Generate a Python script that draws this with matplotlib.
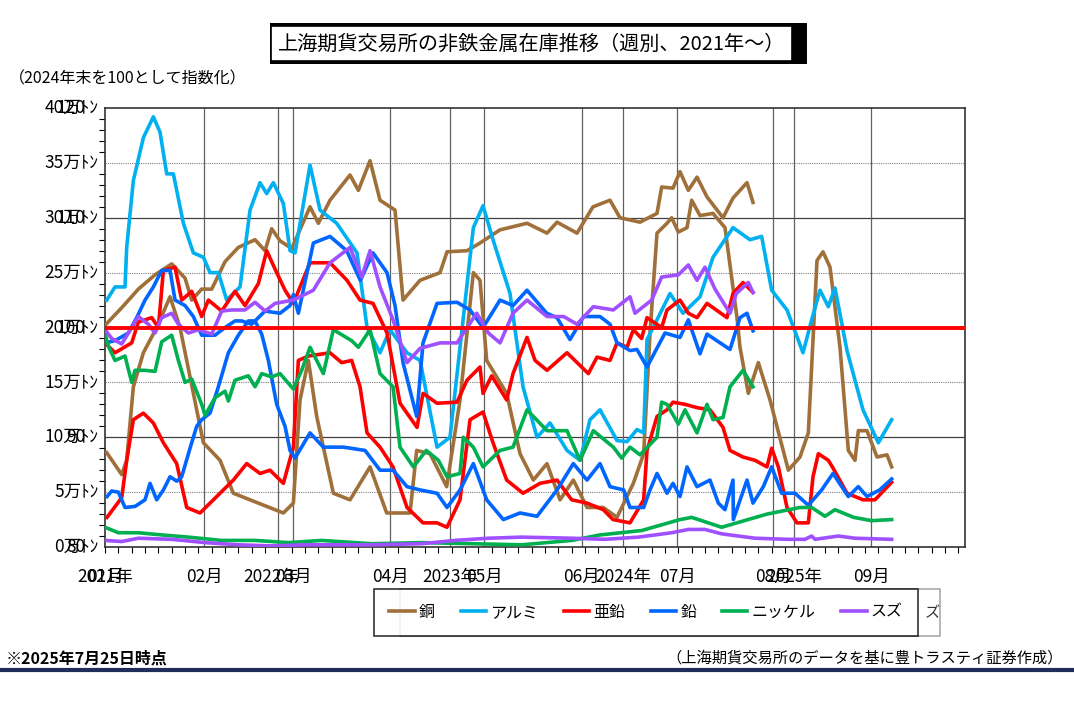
import matplotlib
matplotlib.use("Agg")
import matplotlib.pyplot as plt
from matplotlib.patches import Rectangle

plt.rcParams['font.family'] = ['Noto Sans CJK JP', 'DejaVu Sans']

# (week since 2021-01, value); index lines end in 2024, tonnage lines run to 2025
copper_idx = [(0, 20.2), (5, 21.8), (10, 23.5), (15, 24.8), (20, 25.8), (24, 24.5), (26, 22.5), (29, 23.5),
              (32, 23.5), (36, 26), (40, 27.3), (45, 28), (48, 27), (50, 29), (52.5, 27.9), (56, 27.2),
              (61.5, 31), (64, 29.5), (67.5, 31.6), (73.5, 33.9), (76, 32.5), (79.5, 35.2), (82.5, 31.6),
              (87, 30.7), (89.4, 22.5), (94.5, 24.3), (100.5, 25), (102.6, 26.9), (108.6, 27), (112.5, 27.7),
              (118.5, 28.9), (126.6, 29.5), (132.6, 28.6), (135.6, 29.6), (141.6, 28.6), (146.4, 31),
              (151.5, 31.6), (154.5, 30), (160.5, 29.6), (165.6, 30.4), (167, 32.8), (170.4, 32.7),
              (172.5, 34.2), (175, 32.5), (177.6, 33.7), (180.6, 31.9), (185.4, 30), (188.4, 31.8),
              (192.6, 33.2), (194.4, 31.4)]
copper_t = [(0.5, 8.6), (5, 6.6), (6.5, 7.9), (8.5, 14.6), (11.5, 17.7), (15.5, 20), (19.5, 22.8), (22.5, 20),
            (25.5, 15.5), (29.5, 9.5), (34.5, 7.9), (38.5, 4.9), (43.5, 4.3), (48.5, 3.7), (53.5, 3.1),
            (56.5, 4), (58.5, 13.4), (61, 17), (63.5, 11.9), (68.5, 4.9), (73.5, 4.3), (79.5, 7.3),
            (84.5, 3.1), (91.5, 3.1), (93.5, 8.8), (97.5, 8.5), (102.5, 5.5), (106.5, 13.4), (110.5, 25),
            (112.5, 24.3), (114.5, 17), (120.5, 14), (124.5, 8.5), (128.5, 6.1), (132.6, 7.6), (136.5, 4.3),
            (140.5, 6.1), (144.6, 3.6), (149.5, 3.6), (153.6, 2.7), (158.5, 5.8), (161.6, 8.5),
            (163.5, 19.5), (165.6, 28.6), (168.6, 29.5), (170, 30), (172, 28.7), (174.6, 29.1), (176, 31.6),
            (178.5, 30.2), (182.4, 30.4), (186, 29.1), (189.6, 20.9), (190.5, 18.2), (193, 14),
            (196, 16.8), (199.5, 13.4), (205, 7), (208.5, 8.2), (211, 10.4), (213.6, 26.1), (215.4, 26.9),
            (217.5, 25.5), (220.5, 18.2), (223, 8.8), (225, 7.9), (226, 10.6), (228.6, 10.6), (231.6, 8.2),
            (234.6, 8.4), (236, 7.3)]
alumi = [(0.5, 22.5), (3, 23.7), (6, 23.7), (6.5, 27.3), (8.5, 33.4), (11.5, 37.3), (14.5, 39.2), (16.5, 37.8),
         (18.5, 34), (20.5, 34), (23.5, 29.5), (26.5, 26.8), (29.5, 26.4), (31.5, 25), (34, 25), (36.5, 22.5),
         (40.5, 23.7), (43.5, 30.7), (46.5, 33.2), (48.5, 32.2), (50.5, 33.2), (53.5, 31.3), (55.5, 27),
         (57, 26.8), (61.5, 34.8), (64.5, 30.7), (69.5, 29.5), (75.6, 26.8), (78.6, 20), (82.5, 17.7),
         (85.5, 19.8), (90.6, 17.7), (94.5, 17), (99.6, 9.1), (103.5, 10), (110.5, 29.1), (113.4, 31.1),
         (116.4, 28), (121.5, 23.1), (125.4, 14.6), (129.6, 10), (133.5, 11.3), (138.6, 8.8), (142.5, 7.9),
         (145.5, 11.6), (148.5, 12.5), (153.6, 9.7), (156.6, 9.6), (159.6, 10.7), (161.6, 10.4),
         (162.6, 18.9), (165.6, 20.7), (169.5, 23.1), (173.4, 21.3), (178.5, 22.8), (182.4, 26.4),
         (188.4, 29.1), (193.5, 28), (197, 28.3), (200, 23.4), (204.6, 21.6), (209.4, 17.7), (212, 20.7),
         (214.5, 23.4), (217, 21.9), (219, 23.6), (222.6, 17.9), (227.4, 12.5), (232, 9.5), (236, 11.6)]
zinc_idx = [(0, 18.6), (3, 17.7), (8, 18.6), (10, 20.5), (14, 20.9), (16, 20), (17.5, 25.2), (21, 25.5),
            (23, 22.5), (26, 23.3), (29, 21), (31, 22.5), (35, 21.5), (39, 23.3), (42, 22), (46, 24),
            (48.5, 27), (51.5, 25), (54, 23.4), (56.5, 22.2), (61.5, 25.9), (67.5, 25.9), (72.6, 24.3),
            (76.5, 22.5), (80.4, 22.2), (84.6, 19.5), (88.5, 13.1), (93.6, 10.9), (95.4, 14), (99.6, 13.1),
            (105.6, 13.2), (108.6, 15.2), (112.5, 16.4), (113.4, 14), (116, 15.6), (120.5, 13.4),
            (122.4, 15.8), (126.6, 19.1), (129, 17), (132.6, 16.1), (138.6, 17.7), (145, 15.8),
            (147.6, 17.3), (151.5, 17), (153.6, 18.6), (156.6, 18.2), (158.5, 19.8), (161, 19), (162.6, 20.9),
            (167, 20), (168.6, 21.6), (172.5, 22.5), (175, 21.3), (177.6, 20.9), (180.6, 22.2), (186.6, 20.9),
            (188.4, 23.1), (191.4, 24.1), (194.4, 23.2)]
zinc_t = [(0.6, 2.7), (5, 4.5), (6.5, 7.9), (8.5, 11.6), (11.5, 12.2), (14.5, 11.3), (17.5, 9.5), (21.5, 7.6),
          (24.5, 3.6), (28.5, 3.1), (31.5, 4), (34.5, 4.9), (38.5, 6.1), (42.5, 7.6), (46.5, 6.7), (49.5, 7),
          (53.5, 5.8), (56.5, 9.1), (58, 17), (61, 17.4), (67.5, 17.7), (71, 16.8), (74, 17), (76.5, 14.6),
          (78.6, 10.4), (82.5, 9.1), (86.4, 7.3), (90.6, 3.6), (95.4, 2.2), (99.6, 2.2), (102.6, 1.8),
          (106.5, 4.3), (109.5, 11.6), (113.4, 12.3), (116.4, 9.5), (120.5, 6.1), (125.4, 4.9),
          (130.5, 5.8), (135.6, 6.1), (140, 4.3), (144.6, 4), (149.5, 3.4), (152.4, 2.5), (157.5, 2.2),
          (161.6, 4.3), (162.6, 8.8), (165.6, 11.9), (168.6, 12.5), (170.4, 13.2), (174, 13), (177.6, 12.7),
          (181.5, 12.5), (185.4, 10.9), (187.5, 8.8), (191.4, 8.2), (195, 7.9), (198.6, 7.3), (200, 9),
          (202, 7.3), (204.6, 3.6), (207.6, 2.2), (211, 2.2), (212.4, 6.4), (214, 8.5), (217, 7.9),
          (218.4, 7.2), (222.6, 4.9), (227.4, 4.3), (231, 4.3), (236, 5.9)]
lead_idx = [(0, 18.6), (3, 18.8), (7, 19.5), (9.5, 20.9), (12, 22.5), (14.5, 23.7), (17, 25.2), (19.5, 25.2),
            (21, 22.5), (24, 22), (26.5, 21), (29, 19.3), (33, 19.3), (36, 20), (39, 20.6), (41, 20.6),
            (44, 20.3), (48, 21.5), (52.5, 21.3), (55.5, 22), (56.5, 23), (58, 21.3), (62.5, 27.7),
            (67.5, 28.3), (72.5, 27), (76.6, 24.3), (80.4, 26.8), (84.6, 25), (87, 22), (89.4, 16.8),
            (93.5, 11.9), (95.4, 18.6), (99.6, 22.2), (105.6, 22.3), (109.5, 21.6), (113.4, 20),
            (118.5, 22.5), (122.4, 22), (126.6, 23.4), (132.5, 21.3), (135.6, 20.9), (139.5, 18.9),
            (143.6, 21), (148.5, 21), (151.5, 20.3), (153.6, 18.6), (157.5, 17.9), (159.6, 18),
            (162.6, 16.4), (168, 19.5), (172.5, 19.1), (175, 20.7), (178.5, 17.6), (180.6, 19.4),
            (187.5, 18), (190.5, 20.9), (192.6, 21.3), (194.4, 19.7)]
lead_t = [(0.6, 4.6), (2, 5.1), (4, 5), (6, 3.6), (9, 3.7), (12, 4.3), (13.5, 5.8), (15.5, 4.3), (17.5, 5.2),
          (19.5, 6.4), (21.5, 6), (23, 6.4), (25.5, 9), (27.5, 11), (29, 11.6), (31.5, 12.2), (34, 14.6),
          (37, 17.7), (40, 19.3), (43, 20.6), (45, 20.6), (47, 19.4), (49, 17), (51.5, 13), (54, 11),
          (55.5, 8.8), (57, 8.1), (61.5, 10.4), (65.5, 9.1), (71.5, 9.1), (78, 8.8), (82.5, 7), (86.4, 7),
          (90.6, 5.5), (94.5, 5.2), (99.6, 4.9), (102.6, 3.6), (106.5, 5.2), (110.5, 7.6), (114.5, 4.3),
          (119.5, 2.5), (124.5, 3.1), (129.6, 2.8), (135.6, 5.2), (140.5, 7.6), (144.6, 6.1), (148.5, 7.6),
          (151.5, 5.5), (155.6, 5.2), (157.5, 3.6), (161.6, 3.6), (163.5, 5.2), (165.6, 6.7), (168.6, 4.9),
          (170.4, 5.8), (172.5, 4.6), (174.6, 7.3), (177.6, 5.5), (181.5, 6.1), (184, 4), (186, 3.4),
          (188.4, 6.1), (188.5, 2.5), (192.6, 6.1), (194.4, 4), (197.5, 5.5), (200, 7.3), (203, 4.9),
          (207, 4.9), (211, 3.8), (215, 5.2), (218.4, 6.7), (223, 4.6), (226, 5.5), (228.6, 4.6),
          (232.4, 5.2), (236, 6.2)]
nickel_idx = [(0, 19.5), (1, 18.3), (3, 17), (6, 17.4), (8, 15), (9, 16.1), (12, 16.1), (15, 16), (17, 18.7),
              (20, 19.3), (22, 17), (24, 15), (26, 15.3), (29, 13), (30, 12), (33, 13.6), (36, 14.2),
              (37, 13.3), (39, 15.2), (43, 15.6), (45, 14.6), (47, 15.8), (50, 15.5), (52.5, 15.8),
              (56.5, 14.4), (59, 16.1), (61.5, 18.2), (65.5, 15.8), (68.5, 19.8), (74, 18.8), (76, 18.2),
              (79.5, 19.8), (82.5, 15.8), (86.4, 14.6), (88.5, 9.1), (92.5, 7.3), (96.4, 8.8), (100, 7.9),
              (102.6, 6.4), (106.5, 6.7), (107.5, 10), (110.5, 9.1), (113.4, 7.3), (118.5, 8.8), (122.4, 9.1),
              (126.6, 12.5), (132.6, 10.6), (138.6, 10.6), (142.5, 7.9), (146.5, 10.6), (152.5, 9.1),
              (155, 8.1), (157.5, 9.1), (160.5, 8.4), (165.6, 10), (167, 13.2), (168.6, 13), (172, 11.2),
              (174, 12.5), (177.6, 10.4), (180.6, 13), (182.4, 11.6), (185.4, 11.8), (187.5, 14.6),
              (191.4, 16.1), (194.4, 14.6)]
nickel_t = [(0, 1.8), (4, 1.3), (10, 1.3), (17, 1.1), (25, 0.9), (35, 0.6), (45, 0.6), (55, 0.4), (65, 0.6),
            (80, 0.3), (95, 0.4), (110, 0.3), (125, 0.2), (140, 0.6), (148.5, 1.1), (161, 1.5),
            (172.5, 2.5), (176, 2.7), (185, 1.8), (198.6, 3), (208.5, 3.6), (212, 3.6), (216, 2.8),
            (219, 3.4), (224.6, 2.7), (230, 2.4), (236, 2.5)]
tin_idx = [(0, 19.8), (2, 19), (5, 18.5), (8, 20), (10, 21), (13, 20.3), (15, 19.5), (17, 20.9), (20, 21.3),
           (22, 20.3), (25, 19.5), (28, 19.8), (32, 19.4), (35, 21.5), (38, 21.6), (42, 21.6), (45, 22.3),
           (48, 21.5), (51, 22.2), (56.5, 22.5), (62.5, 23.4), (67.5, 25.9), (73.5, 27.3), (77, 24.6),
           (79.5, 27), (82.5, 23.7), (86.4, 20.7), (90.6, 16.8), (94.5, 18.1), (100.5, 18.6), (105.6, 18.6),
           (111.5, 21.3), (115, 19.5), (118.5, 18.6), (122.4, 21.3), (126.6, 22.5), (132.6, 21),
           (137.6, 21), (141.6, 20.3), (146.5, 21.9), (152.5, 21.6), (157.5, 22.8), (159, 21.3),
           (164, 22.5), (167, 24.6), (172, 24.8), (175, 25.7), (177.6, 24.3), (180, 25.5), (183, 23.5),
           (187.5, 21.3), (189.4, 23.1), (193, 24.1), (194.4, 23.2)]
tin_t = [(0, 0.6), (5, 0.5), (10, 0.8), (20, 0.7), (30, 0.4), (40, 0.2), (50, 0.1), (60, 0.2), (80, 0.2),
         (95, 0.3), (105, 0.6), (115, 0.8), (125, 0.9), (140, 0.8), (150, 0.7), (160, 0.9), (170, 1.3),
         (175, 1.6), (180, 1.6), (185, 1.2), (195, 0.8), (205, 0.7), (210, 0.7), (212, 1), (213, 0.7),
         (220, 1), (225, 0.8), (236, 0.7)]

names = ['銅', 'アルミ', '亜鉛', '鉛', 'ニッケル', 'スズ']
colors = ['#A0703A', '#00B0F0', '#FF0000', '#0066FF', '#00B050', '#A050FF']
series = [[copper_idx, copper_t], [alumi], [zinc_idx, zinc_t], [lead_idx, lead_t],
          [nickel_idx, nickel_t], [tin_idx, tin_t]]

grid_weeks = [29.7, 52, 56.4, 85.5, 103.5, 113.7, 143, 155.4, 171.6, 200.4, 206.7, 229.8]
x_labels = [(0, '2021年'), (0, '01月'), (29.7, '02月'), (50, '2022年'), (56.4, '03月'), (85.5, '04月'),
            (103.5, '2023年'), (113.7, '05月'), (143, '06月'), (155.4, '2024年'), (171.6, '07月'),
            (200.4, '08月'), (206.7, '2025年'), (229.8, '09月')]
y_ton = ['0万ﾄﾝ', '5万ﾄﾝ', '10万ﾄﾝ', '15万ﾄﾝ', '20万ﾄﾝ', '25万ﾄﾝ', '30万ﾄﾝ', '35万ﾄﾝ', '40万ﾄﾝ']
y_idx = {0: '80', 10: '90', 20: '100', 30: '110', 40: '120'}

fig = plt.figure(figsize=(10.74, 7.07), dpi=100)
ax = fig.add_axes([0.0978, 0.2263, 0.8007, 0.6209])
ax.set_xlim(0, 258)
ax.set_ylim(0, 40)

for v in [5, 15, 25, 35]:
    ax.axhline(v, color='#808080', lw=0.8, ls=(0, (1, 1)), zorder=1)
for v in [10, 30]:
    ax.axhline(v, color='#404040', lw=0.9, zorder=1)
for w in grid_weeks:
    ax.axvline(w, color='#606060', lw=0.9, zorder=1)

for name, col, segs in zip(names, colors, series):
    for k, seg in enumerate(segs):
        xs = [p[0] for p in seg]
        ys = [p[1] for p in seg]
        ax.plot(xs, ys, color=col, lw=2.6, label=name if k == 0 else None, zorder=3)

ax.axhline(20, color='#FF0000', lw=2.8, zorder=4)

ax.set_yticks(range(0, 41, 5))
ax.set_yticklabels([])
ax.set_yticks(range(0, 41, 1), minor=True)
ax.set_xticks([])
ax.set_xticks(range(0, 258, 4), minor=True)
ax.tick_params(axis='both', which='minor', length=4, width=0.8, direction='out')
ax.tick_params(axis='y', which='major', length=0)
for s in ax.spines.values():
    s.set_color('#333333')
    s.set_linewidth(1.2)

for i, lab in enumerate(y_ton):
    v = i * 5
    ax.text(-2, v, lab, ha='right', va='center', fontsize=12.5)
    if v in y_idx:
        ax.text(-6, v, y_idx[v], ha='right', va='center', fontsize=12.5)
for w, lab in x_labels:
    ax.text(w, -1.9, lab, ha='center', va='top', fontsize=12.5)

fig.text(0.495, 0.938, '上海期貨交易所の非鉄金属在庫推移（週別、2021年～）', ha='center', va='center',
         fontsize=14.5, bbox=dict(boxstyle='square,pad=0.35', fc='white', ec='black', lw=1.2))
fig.patches.append(Rectangle((0.251, 0.91), 0.5, 0.057, transform=fig.transFigure, fc='black', zorder=-1))
fig.text(0.008, 0.889, '（2024年末を100として指数化）', fontsize=11.5, va='center')

fig.patches.append(Rectangle((0.372, 0.101), 0.503, 0.066, transform=fig.transFigure,
                             fc='white', ec='#aaaaaa', lw=1.2, zorder=1))
fig.text(0.861, 0.134, 'ズ', fontsize=11, va='center', color='#333333')
leg = fig.legend(loc='center', bbox_to_anchor=(0.6015, 0.134), ncol=6, frameon=True, fontsize=11.5,
                 handlelength=1.6, handletextpad=0.25, columnspacing=1.6, fancybox=False,
                 edgecolor='black', borderpad=0.95, borderaxespad=0)
leg.get_frame().set_linewidth(1.2)

fig.text(0.005, 0.069, '※2025年7月25日時点', fontsize=11.5, fontweight='bold', va='center')
fig.text(0.99, 0.069, '（上海期貨交易所のデータを基に豊トラスティ証券作成）', fontsize=11, ha='right', va='center')
fig.add_artist(plt.Line2D([0, 1], [0.052, 0.052], color='#1F2D5A', lw=3, transform=fig.transFigure))

fig.savefig('out.png', dpi=100)
